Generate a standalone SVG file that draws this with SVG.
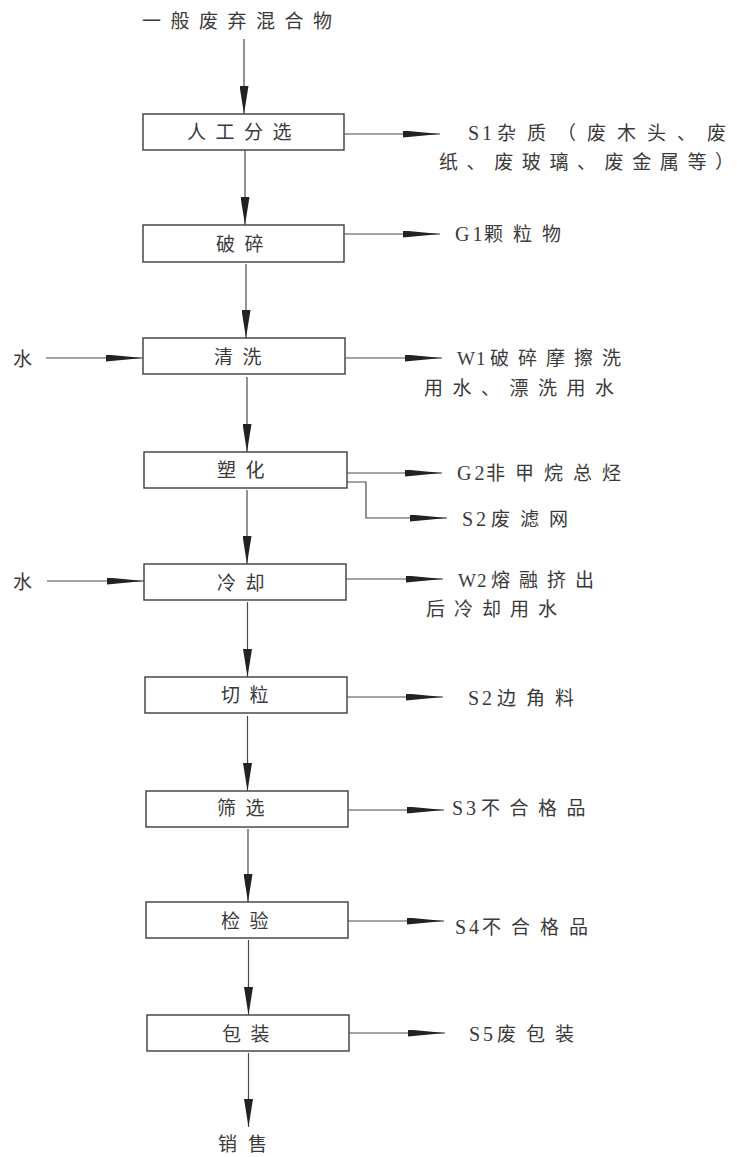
<svg xmlns="http://www.w3.org/2000/svg" width="737" height="1157" viewBox="0 0 737 1157">
<style>
.box{fill:#fff;stroke:#3c3c3c;stroke-width:1.4}
.ln{fill:none;stroke:#4a4a4a;stroke-width:1.2}
text{font-family:"Liberation Serif","Noto Sans CJK SC",serif;font-size:19px;fill:#3a3a3a}
.c{letter-spacing:9.5px}
.c10{letter-spacing:10px}
.l{font-size:20px;letter-spacing:3px}
.lw{font-size:19px;letter-spacing:0}
</style>
<defs>
<marker id="ah" markerUnits="userSpaceOnUse" markerWidth="37" markerHeight="7" refX="37" refY="3.5" orient="auto" viewBox="0 0 37 7"><path d="M0,0 L37,3.5 L0,7 Z" fill="#1e2328"/></marker>
<marker id="av" markerUnits="userSpaceOnUse" markerWidth="28" markerHeight="9" refX="28" refY="4.5" orient="auto" viewBox="0 0 28 9"><path d="M0,0 L28,4.5 L0,9 Z" fill="#1e2328"/></marker>
</defs>

<g id="input"><text x="142" y="28" class="c">一般废弃混合物</text></g>

<g id="n1"><rect class="box" x="143" y="114" width="201" height="36"/><text x="187" y="139" class="c">人工分选</text></g>
<g id="n2"><rect class="box" x="143" y="225" width="201" height="37"/><text x="216" y="251" class="c">破碎</text></g>
<g id="n3"><rect class="box" x="143" y="338" width="202" height="36"/><text x="214" y="364" class="c">清洗</text></g>
<g id="n4"><rect class="box" x="144" y="452" width="203" height="36"/><text x="217" y="477" class="c">塑化</text></g>
<g id="n5"><rect class="box" x="144" y="564" width="202" height="36"/><text x="217" y="590" class="c">冷却</text></g>
<g id="n6"><rect class="box" x="145" y="677" width="202" height="36"/><text x="221" y="702" class="c">切粒</text></g>
<g id="n7"><rect class="box" x="146" y="791" width="202" height="36"/><text x="217" y="815" class="c">筛选</text></g>
<g id="n8"><rect class="box" x="146" y="902" width="202" height="36"/><text x="221" y="928" class="c">检验</text></g>
<g id="n9"><rect class="box" x="147" y="1015" width="202" height="36"/><text x="222" y="1041" class="c">包装</text></g>

<g id="w1"><text x="13" y="366">水</text></g>
<g id="w2"><text x="13" y="589">水</text></g>
<g id="out"><text x="218" y="1151" style="letter-spacing:11px">销售</text></g>

<g id="o1"><text y="140"><tspan x="468" class="l">S1</tspan><tspan x="497" style="letter-spacing:11px">杂质（废木头、</tspan><tspan style="letter-spacing:0">废</tspan></text><text x="439" y="169"><tspan style="letter-spacing:8.6px">纸、废玻璃、废金属等</tspan><tspan style="letter-spacing:0">）</tspan></text></g>
<g id="o2"><text y="241"><tspan x="455" class="l">G1</tspan><tspan x="484" class="c10">颗粒物</tspan></text></g>
<g id="o3"><text y="365"><tspan x="457" class="lw">W</tspan><tspan x="476" class="lw">1</tspan><tspan x="490" style="letter-spacing:9px">破碎摩擦洗</tspan></text><text x="424" y="395" class="c">用水、漂洗用水</text></g>
<g id="o4"><text y="480"><tspan x="457" class="l">G2</tspan><tspan x="486" class="c10">非甲烷总烃</tspan></text></g>
<g id="o5"><text y="526"><tspan x="462" class="l">S2</tspan><tspan x="491" class="c10">废滤网</tspan></text></g>
<g id="o6"><text y="587"><tspan x="458" class="lw">W</tspan><tspan x="477" class="lw">2</tspan><tspan x="491" style="letter-spacing:9px">熔融挤出</tspan></text><text x="426" y="616" style="letter-spacing:9px">后冷却用水</text></g>
<g id="o7"><text y="705"><tspan x="468" class="l">S2</tspan><tspan x="497" class="c10">边角料</tspan></text></g>
<g id="o8"><text y="815"><tspan x="452" class="l">S3</tspan><tspan x="481" class="c">不合格品</tspan></text></g>
<g id="o9"><text y="934"><tspan x="455" class="l">S4</tspan><tspan x="482" class="c10">不合格品</tspan></text></g>
<g id="o10"><text y="1041"><tspan x="469" class="l">S5</tspan><tspan x="497" class="c10">废包装</tspan></text></g>

<g id="connectors">
<path class="ln" d="M244,39 V114" marker-end="url(#av)"/>
<path class="ln" d="M245,150 V225" marker-end="url(#av)"/>
<path class="ln" d="M246,264 V338" marker-end="url(#av)"/>
<path class="ln" d="M247,377 V452" marker-end="url(#av)"/>
<path class="ln" d="M247,490 V564" marker-end="url(#av)"/>
<path class="ln" d="M247.5,602 V677" marker-end="url(#av)"/>
<path class="ln" d="M247.5,716 V791" marker-end="url(#av)"/>
<path class="ln" d="M248,829 V902" marker-end="url(#av)"/>
<path class="ln" d="M248.5,940 V1015" marker-end="url(#av)"/>
<path class="ln" d="M248.5,1053 V1127" marker-end="url(#av)"/>
<path class="ln" d="M46,358 H143" marker-end="url(#ah)"/>
<path class="ln" d="M47,581 H144" marker-end="url(#ah)"/>
<path class="ln" d="M344,134 H440" marker-end="url(#ah)"/>
<path class="ln" d="M344,234 H440" marker-end="url(#ah)"/>
<path class="ln" d="M345,358 H442" marker-end="url(#ah)"/>
<path class="ln" d="M347,473 H442" marker-end="url(#ah)"/>
<path class="ln" d="M347,482 H366 V518 H447" marker-end="url(#ah)"/>
<path class="ln" d="M346,579 H443" marker-end="url(#ah)"/>
<path class="ln" d="M347,697 H443" marker-end="url(#ah)"/>
<path class="ln" d="M348,810 H444" marker-end="url(#ah)"/>
<path class="ln" d="M348,921 H444" marker-end="url(#ah)"/>
<path class="ln" d="M349,1033 H445" marker-end="url(#ah)"/>
</g>
</svg>
